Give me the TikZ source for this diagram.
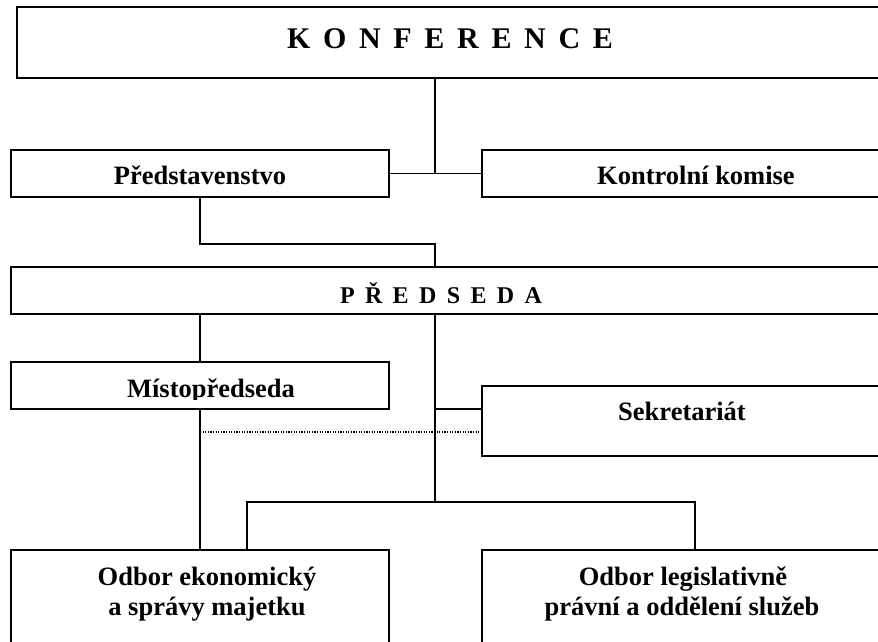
\documentclass[tikz,border=0pt]{standalone}
\usepackage{fontspec}
\setmainfont{Liberation Serif}
\begin{document}
\begin{tikzpicture}[x=1pt,y=-1pt,
  box/.style={draw,line width=2pt,fill=white,inner sep=0pt,outer sep=0pt},
  conn/.style={line width=1.4pt},
  dotline/.style={line width=1.3pt,dash pattern=on 1.1pt off 1.5pt},
  lbl/.style={inner sep=0pt,anchor=base,font=\bfseries\fontsize{26.5}{30}\selectfont}]
\useasboundingbox (0,0) rectangle (878,641);
\clip (0,0) rectangle (878,641);
% boxes
\node[box,minimum width=868pt,minimum height=71pt] (konf) at (451,42.5) {};
\node[box,minimum width=378pt,minimum height=47pt] (pred) at (200,173.5) {};
\node[box,minimum width=428pt,minimum height=47pt] (kk) at (696,173.5) {};
\node[box,minimum width=869pt,minimum height=47pt] (presed) at (445.5,290.5) {};
\node[box,minimum width=378pt,minimum height=47pt] (mist) at (200,385.5) {};
\node[box,minimum width=428pt,minimum height=70pt] (sekr) at (696,421) {};
\node[box,minimum width=378pt,minimum height=150pt] (oek) at (200,625) {};
\node[box,minimum width=428pt,minimum height=150pt] (oleg) at (696,625) {};
% junction coordinates
\coordinate (c1) at (435,173.5);
\coordinate (c2) at (435,244);
\coordinate (c3) at (435,502);
\coordinate (b1) at (247,502);
\coordinate (b2) at (695,502);
\coordinate (d1) at (200,432);
% connectors
\draw[conn] (konf.south -| c1) -- (c1);
\draw[conn] (pred.east) -- (kk.west);
\draw[conn] (pred.south) |- (c2) -- (c2 |- presed.north);
\draw[conn] (mist.north |- presed.south) -- (mist.north);
\draw[conn] (c3 |- presed.south) -- (c3);
\draw[conn] (c3 |- mist.south) -- (sekr.west |- mist.south);
\draw[conn] (mist.south) -- (mist.south |- oek.north);
\draw[dotline] (d1) -- (d1 -| sekr.west);
\draw[conn] (b1 |- oek.north) -- (b1) -- (b2) -- (b2 |- oleg.north);
% labels
\node[lbl,font=\bfseries\fontsize{30}{34}\selectfont] (tkonf) at (450,48)
  {\makebox[326pt][s]{K\hfill O\hfill N\hfill F\hfill E\hfill R\hfill E\hfill N\hfill C\hfill E}};
\node[lbl] (tpred) at (200,184) {Představenstvo};
\node[lbl] (tkk) at (696,184) {Kontrolní komise};
\node[lbl,font=\bfseries\fontsize{24}{28}\selectfont] (tpresed) at (441,303)
  {\makebox[202pt][s]{P\hfill Ř\hfill E\hfill D\hfill S\hfill E\hfill D\hfill A}};
\begin{scope}
\clip (11,362) rectangle (389,399.5);
\node[lbl] (tmist) at (211,397) {Místopředseda};
\end{scope}
\node[lbl] (tsekr) at (682,420) {Sekretariát};
\node[lbl] (toek1) at (207,585) {Odbor ekonomický};
\node[lbl] (toek2) at (207,615) {a správy majetku};
\node[lbl] (toleg1) at (683,585) {Odbor legislativně};
\node[lbl] (toleg2) at (682,615) {právní a oddělení služeb};
\end{tikzpicture}
\end{document}
